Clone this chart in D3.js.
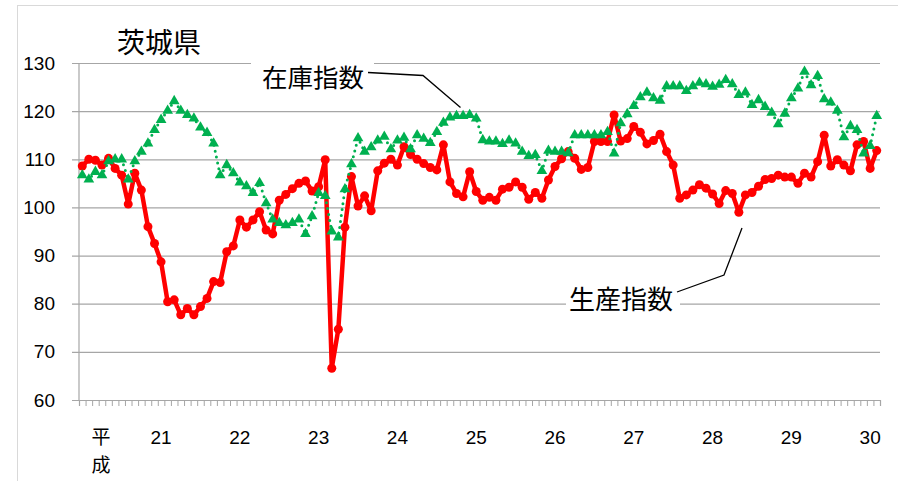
<!DOCTYPE html>
<html><head><meta charset="utf-8">
<script src="https://cdn.jsdelivr.net/npm/d3@7"></script>
<style>
html,body{margin:0;padding:0;background:#fff;}
svg{display:block;font-family:"Noto Sans CJK JP","Noto Sans",sans-serif;}
</style></head>
<body>
<svg id="c" width="898" height="481"></svg>
<script>
// categories: monthly, Jan H20 (2008) .. Feb H30 (2018)
const startYear = 2008, nMonths = 122;
const categories = d3.range(nMonths).map(i => `${startYear + Math.floor(i/12)}-${String(i%12+1).padStart(2,"0")}`);
const yearTickLabels = ["21","22","23","24","25","26","27","28","29","30"];
const yTicks = [60,70,80,90,100,110,120,130];

// 生産指数 (production index)
const production = [108.6,110,109.8,108.8,110.2,108.1,106.7,100.7,107.1,103.6,96,92.5,
88.7,80.4,80.8,77.7,79,77.7,79.4,81.1,84.6,84.4,90.8,92,
97.4,95.9,97.4,99.1,95.3,94.5,101.5,102.7,103.9,105,105.5,103.4,
104.3,109.9,66.6,74.7,95.9,106.4,100.3,102.4,99.3,107.6,109.2,110,
108.8,112.6,111,110,109.1,108.3,107.8,113,105.3,102.9,102.2,107.4,
103.3,101.5,102.1,101.5,103.8,104.2,105.3,104.2,101.7,103.1,101.9,105.7,
108.5,110.1,111.6,110.2,107.9,108.3,113.7,113.7,113.7,119.2,113.8,114.3,
116.8,115.6,113.2,113.9,115.2,111.6,108.8,101.9,102.6,103.6,104.7,104,
102.8,100.8,103.5,102.9,99,102.6,103.1,104.4,105.8,106,106.7,106.3,
106.3,105,107.1,106.3,109.5,115,108.6,109.9,108.8,107.6,113,113.7,
108.1,111.8];

// 在庫指数 (inventory index)
const inventory = [106.7,105.8,107.4,106.7,109.6,110,110,105.8,109.6,111.6,113.3,116.1,
118.2,120.1,122.1,120.1,119.2,118.5,116.6,115.5,113.3,106.7,108.8,107.1,
105.2,104.4,103,105.1,100.9,97.5,96.8,96.3,96.8,97.5,94.5,98.2,
103,102.4,95,93.8,103.8,109,114.4,111.6,112.5,113.9,114.7,112.1,
113.9,114.5,112.1,115,114.3,113.4,115.7,117.6,118.7,119,119,119.2,
118.5,114,113.7,113.7,113.2,113.9,113.3,111.6,110.7,110.9,107.6,111.8,
111.6,111.6,111.3,115,115,115,115,115,115.7,111.2,117.5,119.4,
121.1,122.9,123.9,122.7,122.2,125.2,125.2,125.2,124.2,125.2,125.9,125.6,
125.1,125.5,126.5,125.6,123.4,123.9,121.3,122.3,120.9,119.7,117.3,119.5,
122.7,124.7,128.2,125.4,127.3,122.5,121.8,120.1,114.6,116.9,116.1,111.2,
112.8,119];

const svg = d3.select("#c");
const L = 79, R = 880, T = 63, B = 400;

// outer frame
svg.append("rect").attr("x",17.5).attr("y",5.5).attr("width",898).attr("height",490)
  .attr("fill","none").attr("stroke","#d9d9d9").attr("stroke-width",1);

const x = d3.scaleBand().domain(categories).range([L, R]).padding(0);
const xLin = d3.scaleLinear().domain([0, nMonths]).range([L, R]);
const y = d3.scaleLinear().domain([60,130]).range([B, T]);

// gridlines + y axis
const yAxis = d3.axisLeft(y).tickValues(yTicks).tickSize(R - L + 7).tickFormat(d3.format("d"));
const gy = svg.append("g").attr("transform",`translate(${R},0)`).call(yAxis);
gy.select(".domain").remove();
gy.selectAll(".tick line").attr("stroke","#a6a6a6").attr("stroke-width",1.2);
gy.selectAll(".tick text").attr("x",-(R-L)-24).attr("font-size",19).attr("fill","#000")
  .attr("font-family","Liberation Sans, Arial, sans-serif");
// vertical axis line
svg.append("line").attr("x1",L).attr("x2",L).attr("y1",T).attr("y2",B).attr("stroke","#a6a6a6").attr("stroke-width",1.2);

// x axis minor ticks (month boundaries)
const gxm = svg.append("g").attr("transform",`translate(0,${B})`)
  .call(d3.axisBottom(xLin).tickValues(d3.range(nMonths+1)).tickFormat("").tickSize(6));
gxm.select(".domain").attr("stroke","#a6a6a6").attr("stroke-width",1.2);
gxm.selectAll(".tick line").attr("stroke","#a6a6a6");

// x axis year labels
const yearIdx = yearTickLabels.map((_, k) => categories[12*(k+1)]);
const gx = svg.append("g").attr("transform",`translate(0,${B})`)
  .call(d3.axisBottom(x).tickValues(yearIdx).tickSize(0)
    .tickFormat((d,i) => yearTickLabels[i]));
gx.select(".domain").remove();
gx.selectAll(".tick text").attr("dy",0).attr("y",44).attr("font-size",19).attr("fill","#000")
  .attr("font-family","Liberation Sans, Arial, sans-serif");

svg.append("text").attr("x",101).attr("y",444).attr("text-anchor","middle").attr("font-size",19).text("平");
svg.append("text").attr("x",101).attr("y",472).attr("text-anchor","middle").attr("font-size",19).text("成");

// title
svg.append("text").attr("x",117).attr("y",53).attr("font-size",28).attr("fill","#000").text("茨城県");

const cx = (d,i) => x(categories[i]) + x.bandwidth()/2;

// production line (red)
svg.append("path").datum(production)
  .attr("fill","none").attr("stroke","#ff0000").attr("stroke-width",4.5).attr("stroke-linejoin","round")
  .attr("d", d3.line().x(cx).y(d => y(d)));
svg.append("g").selectAll("circle").data(production).join("circle")
  .attr("cx",cx).attr("cy",d=>y(d)).attr("r",4.5).attr("fill","#ff0000");

// inventory (green dotted with triangles)
svg.append("path").datum(inventory)
  .attr("fill","none").attr("stroke","#00b050").attr("stroke-width",3).attr("stroke-linecap","round")
  .attr("stroke-dasharray","0,6")
  .attr("d", d3.line().x(cx).y(d => y(d)));
svg.append("g").selectAll("path").data(inventory).join("path")
  .attr("transform",(d,i)=>`translate(${cx(d,i)},${y(d)})`)
  .attr("d", d3.symbol().type(d3.symbolTriangle).size(50)).attr("fill","#00b050");

// callouts
svg.append("rect").attr("x",251).attr("y",58).attr("width",123).attr("height",34).attr("fill","#fff");
svg.append("text").attr("x",262).attr("y",87).attr("font-size",25.5).attr("fill","#000").text("在庫指数");
svg.append("polyline").attr("points","368,72.5 423,75.5 460.5,107.5").attr("fill","none").attr("stroke","#000").attr("stroke-width",1.3);

svg.append("rect").attr("x",566).attr("y",282).attr("width",114).attr("height",34).attr("fill","#fff");
svg.append("text").attr("x",569).attr("y",309).attr("font-size",26).attr("fill","#000").text("生産指数");
svg.append("polyline").attr("points","677,292 724,275 742,228").attr("fill","none").attr("stroke","#000").attr("stroke-width",1.3);
</script>
</body></html>
